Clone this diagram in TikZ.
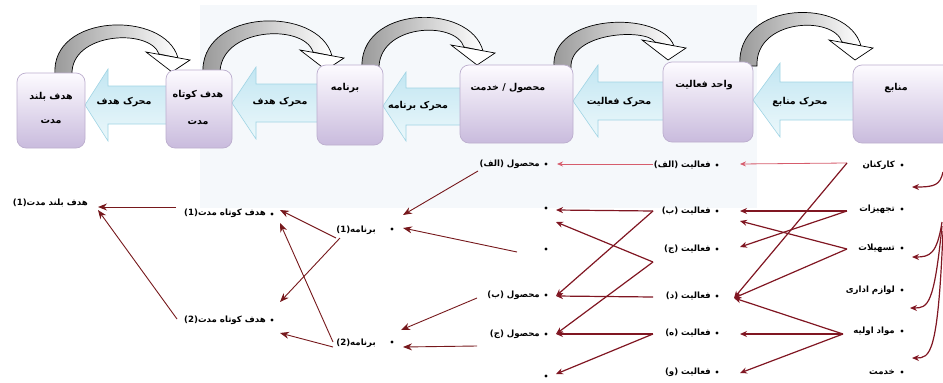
\documentclass[tikz,border=0pt]{standalone}
\usepackage{fontspec}
\usetikzlibrary{arrows.meta}
\TeXXeTstate=1
\newfontfamily\fa[Script=Arabic]{DejaVu Sans}
\newcommand{\fatx}[1]{{\fa\beginR #1\endR}}
\definecolor{boxtop}{RGB}{253,251,255}
\definecolor{boxbot}{RGB}{201,187,221}
\definecolor{boxline}{RGB}{188,174,206}
\definecolor{arrtop}{RGB}{194,230,242}
\definecolor{arrbot}{RGB}{236,248,251}
\definecolor{arrline}{RGB}{160,212,228}
\definecolor{wmbg}{RGB}{245,248,251}
\definecolor{linkc}{RGB}{128,22,34}
\definecolor{pinkc}{RGB}{214,92,108}
\definecolor{goalc}{RGB}{118,24,28}
\definecolor{bandgray}{RGB}{150,150,150}
\begin{document}
\begin{tikzpicture}[x=1pt,y=-1pt,
  box/.style={draw=boxline, line width=0.7pt, rounded corners=9pt, top color=boxtop, bottom color=boxbot, inner sep=0pt},
  barrow/.style={draw=arrline, line width=0.6pt, top color=arrtop, bottom color=arrbot},
  band/.style={draw=black, line width=0.7pt, left color=bandgray, right color=white},
  ahead/.style={draw=black, line width=0.7pt, fill=white},
  lbl/.style={inner sep=1pt, font=\fontsize{8.6}{10}\selectfont\bfseries},
  tl/.style={inner sep=1pt, font=\fontsize{9.5}{11}\selectfont\bfseries},
  dot/.style={circle, fill=black, inner sep=0pt, minimum size=3.4pt},
  link/.style={draw=linkc, line width=1.2pt, -{Stealth[length=7pt,width=6pt]}},
  plink/.style={draw=pinkc, line width=0.8pt, -{Stealth[length=6pt,width=5pt]}},
  glink/.style={draw=goalc, line width=0.9pt, -{Stealth[length=9pt,width=7pt]}}
]
\useasboundingbox (0,0) rectangle (943,383);
% faint background panel
\fill[wmbg] (200,5) rectangle (757,208);

% ---- block arrows (pointing left)
\draw[barrow] (85,105) -- (108,69) -- (108,86) -- (175,86) -- (175,124) -- (108,124) -- (108,141) -- cycle;
\draw[barrow] (232,103) -- (256,67) -- (256,84) -- (325,84) -- (325,122) -- (256,122) -- (256,139) -- cycle;
\draw[barrow] (383,106) -- (406,72) -- (406,88) -- (468,88) -- (468,125) -- (406,125) -- (406,141) -- cycle;
\draw[barrow] (573,101) -- (598,65) -- (598,82) -- (670,82) -- (670,120) -- (598,120) -- (598,137) -- cycle;
\draw[barrow] (753,100) -- (780,63) -- (780,82) -- (860,82) -- (860,120) -- (780,120) -- (780,137) -- cycle;

% ---- curved arrows
\draw[band] (55,75) .. controls (50,13) and (165,10) .. (178,58) -- (159,54) .. controls (150,28) and (70,32) .. (72,75) -- cycle;
\draw[ahead] (146,52) -- (190,60) -- (172,72) -- cycle;
\draw[band] (203,75) .. controls (198,8) and (319,5) .. (332,56) -- (313,52) .. controls (304,23) and (218,27) .. (220,75) -- cycle;
\draw[ahead] (300,50) -- (344,58) -- (326,70) -- cycle;
\draw[band] (362,70) .. controls (357,5) and (470,2) .. (483,51) -- (464,47) .. controls (455,20) and (377,24) .. (379,70) -- cycle;
\draw[ahead] (451,45) -- (495,53) -- (477,65) -- cycle;
\draw[band] (554,68) .. controls (549,13) and (661,10) .. (674,46) -- (655,42) .. controls (646,28) and (569,32) .. (571,68) -- cycle;
\draw[ahead] (642,40) -- (686,48) -- (668,60) -- cycle;
\draw[band] (740,66) .. controls (735,0) and (848,-3) .. (861,46) -- (842,42) .. controls (833,15) and (755,19) .. (757,66) -- cycle;
\draw[ahead] (829,40) -- (873,48) -- (855,60) -- cycle;

% ---- boxes
\node[box, minimum width=68pt, minimum height=75pt] (b1) at (51,110.5) {};
\node[box, minimum width=66pt, minimum height=78pt] (b2) at (199,109) {};
\node[box, minimum width=66pt, minimum height=80pt] (b3) at (350,105) {};
\node[box, minimum width=113pt, minimum height=78pt] (b4) at (516.5,104) {};
\node[box, minimum width=90pt, minimum height=80pt] (b5) at (708,102) {};
\node[box, minimum width=107pt, minimum height=78pt] (b6) at (906.5,104) {};

\node[tl, align=center] (t1) at (51,108) {\fatx{هدف بلند}\\[13pt]\fatx{مدت}};
\node[tl, align=center] (t2) at (198,108) {\fatx{هدف کوتاه}\\[16pt]\fatx{مدت}};
\node[tl] (t3) at (345,88) {\fatx{برنامه}};
\node[tl] (t4) at (508,88) {\fatx{محصول / خدمت}};
\node[tl] (t5) at (704,85) {\fatx{واحد فعالیت}};
\node[tl] (t6) at (896,88) {\fatx{منابع}};

\node[tl] (m1) at (124,102) {\fatx{محرک هدف}};
\node[tl] (m2) at (280,102) {\fatx{محرک هدف}};
\node[tl] (m3) at (418,106) {\fatx{محرک برنامه}};
\node[tl] (m4) at (619,102) {\fatx{محرک فعالیت}};
\node[tl] (m5) at (800,102) {\fatx{محرک منابع}};

% ---- resources
\node[dot] (r1d) at (902,165) {}; \node[lbl,anchor=east] (r1) at (896,165) {\fatx{کارکنان}};
\node[dot] (r2d) at (902,209) {}; \node[lbl,anchor=east] (r2) at (896,209) {\fatx{تجهیزات}};
\node[dot] (r3d) at (902,248) {}; \node[lbl,anchor=east] (r3) at (896,248) {\fatx{تسهیلات}};
\node[dot] (r4d) at (902,290) {}; \node[lbl,anchor=east] (r4) at (896,290) {\fatx{لوازم اداری}};
\node[dot] (r5d) at (902,331) {}; \node[lbl,anchor=east] (r5) at (896,331) {\fatx{مواد اولیه}};
\node[dot] (r6d) at (902,372) {}; \node[lbl,anchor=east] (r6) at (896,372) {\fatx{خدمت}};

% ---- activities
\node[dot] (a1d) at (717,165) {}; \node[lbl,anchor=east] (a1) at (712,165) {\fatx{فعالیت (الف)}};
\node[dot] (a2d) at (717,211) {}; \node[lbl,anchor=east] (a2) at (712,211) {\fatx{فعالیت (ب)}};
\node[dot] (a3d) at (717,249) {}; \node[lbl,anchor=east] (a3) at (712,249) {\fatx{فعالیت (ج)}};
\node[dot] (a4d) at (717,296) {}; \node[lbl,anchor=east] (a4) at (712,296) {\fatx{فعالیت (د)}};
\node[dot] (a5d) at (717,333) {}; \node[lbl,anchor=east] (a5) at (712,333) {\fatx{فعالیت (ه)}};
\node[dot] (a6d) at (717,372) {}; \node[lbl,anchor=east] (a6) at (712,372) {\fatx{فعالیت (و)}};

% ---- products
\node[dot] (p1d) at (546,164) {}; \node[lbl,anchor=east] (p1) at (541,164) {\fatx{محصول (الف)}};
\node[dot] (p2d) at (546,208) {};
\node[dot] (p3d) at (546,249) {};
\node[dot] (p4d) at (546,295) {}; \node[lbl,anchor=east] (p4) at (541,295) {\fatx{محصول (ب)}};
\node[dot] (p5d) at (546,334) {}; \node[lbl,anchor=east] (p5) at (541,334) {\fatx{محصول (ج)}};
\node[dot] (p6d) at (546,376) {};

% ---- programs
\node[dot] (g1d) at (392,229) {}; \node[lbl,anchor=east] (g1) at (377,230) {\fatx{برنامه\beginL(1)\endL}};
\node[dot] (g2d) at (392,342) {}; \node[lbl,anchor=east] (g2) at (377,343) {\fatx{برنامه\beginL(2)\endL}};

% ---- short-term goals
\node[dot] (s1d) at (272,214) {}; \node[lbl,anchor=east] (s1) at (267,213) {\fatx{هدف کوتاه مدت\beginL(1)\endL}};
\node[dot] (s2d) at (272,320) {}; \node[lbl,anchor=east] (s2) at (267,320) {\fatx{هدف کوتاه مدت\beginL(2)\endL}};

% ---- long-term goal
\node[lbl,anchor=east] (l1) at (89,203) {\fatx{هدف بلند مدت\beginL(1)\endL}};

% ---- connector end points
\coordinate (r1o) at (847,163); \coordinate (r2o) at (847,211);
\coordinate (r3o) at (847,249); \coordinate (r5o) at (843,334);
\coordinate (a1i) at (740,164); \coordinate (a2i) at (740,211); \coordinate (a2j) at (740,221);
\coordinate (a3i) at (740,247); \coordinate (a4i) at (734,298); \coordinate (a5i) at (740,334);
\coordinate (a6i) at (740,373);
\coordinate (a1o) at (653,164); \coordinate (a2o) at (653,211); \coordinate (a3o) at (653,262);
\coordinate (a4o) at (653,297); \coordinate (a5o) at (653,334);
\coordinate (p1i) at (557,164); \coordinate (p2i) at (556,210); \coordinate (p2j) at (556,222);
\coordinate (p4i) at (556,296); \coordinate (p5i) at (556,334); \coordinate (p6i) at (556,374);
\coordinate (p1o) at (478,171); \coordinate (p3o) at (517,252);
\coordinate (p4o) at (477,298); \coordinate (p5o) at (477,346);
\coordinate (g1i) at (403,215); \coordinate (g1j) at (403,228);
\coordinate (g2i) at (401,330); \coordinate (g2j) at (403,347);
\coordinate (g1o) at (336,238); \coordinate (g1p) at (340,238);
\coordinate (g2o) at (333,342); \coordinate (g2p) at (333,347);
\coordinate (s1i) at (280,210); \coordinate (s1j) at (280,223);
\coordinate (s2i) at (280,302); \coordinate (s2j) at (280,333);
\coordinate (s1o) at (176,207); \coordinate (s2o) at (177,319);
\coordinate (l1i) at (98,207); \coordinate (l1j) at (98,210);

% resources -> activities
\draw[plink] (r1o) -- (a1i);
\draw[link] (r1o) -- (a4i);
\draw[link] (r2o) -- (a2i);
\draw[link] (r2o) -- (a3i);
\draw[link] (r3o) -- (a2j);
\draw[link] (r3o) -- (a4i);
\draw[link] (r5o) -- (a4i);
\draw[link] (r5o) -- (a5i);
\draw[link] (r5o) -- (a6i);
% activities -> products
\draw[plink] (a1o) -- (p1i);
\draw[link] (a2o) -- (p2i);
\draw[link] (a2o) -- (p4i);
\draw[link] (a3o) -- (p2j);
\draw[link] (a3o) -- (p5i);
\draw[link] (a4o) -- (p4i);
\draw[link] (a5o) -- (p5i);
\draw[link] (a5o) -- (p6i);
% products -> programs
\draw[glink] (p1o) -- (g1i);
\draw[glink] (p3o) -- (g1j);
\draw[glink] (p4o) -- (g2i);
\draw[glink] (p5o) -- (g2j);
% programs -> short-term goals
\draw[glink] (g1o) -- (s1i);
\draw[glink] (g1p) -- (s2i);
\draw[glink] (g2o) -- (s1j);
\draw[glink] (g2p) -- (s2j);
% short-term -> long-term
\draw[glink] (s1o) -- (l1i);
\draw[glink] (s2o) -- (l1j);

% feedback arrows on the right edge
\coordinate (k1s) at (943,172); \coordinate (k1e) at (912,187);
\coordinate (k2s) at (942,222); \coordinate (k2e) at (912,257);
\coordinate (k3s) at (942,226); \coordinate (k3e) at (910,308);
\coordinate (k4s) at (943,231); \coordinate (k4e) at (912,358);
\draw[link] (k1s) .. controls (940,185) and (935,187) .. (k1e);
\draw[link] (k2s) .. controls (937,254) and (930,257) .. (k2e);
\draw[link] (k3s) .. controls (934,305) and (928,308) .. (k3e);
\draw[link] (k4s) .. controls (938,355) and (930,358) .. (k4e);
\end{tikzpicture}
\end{document}
